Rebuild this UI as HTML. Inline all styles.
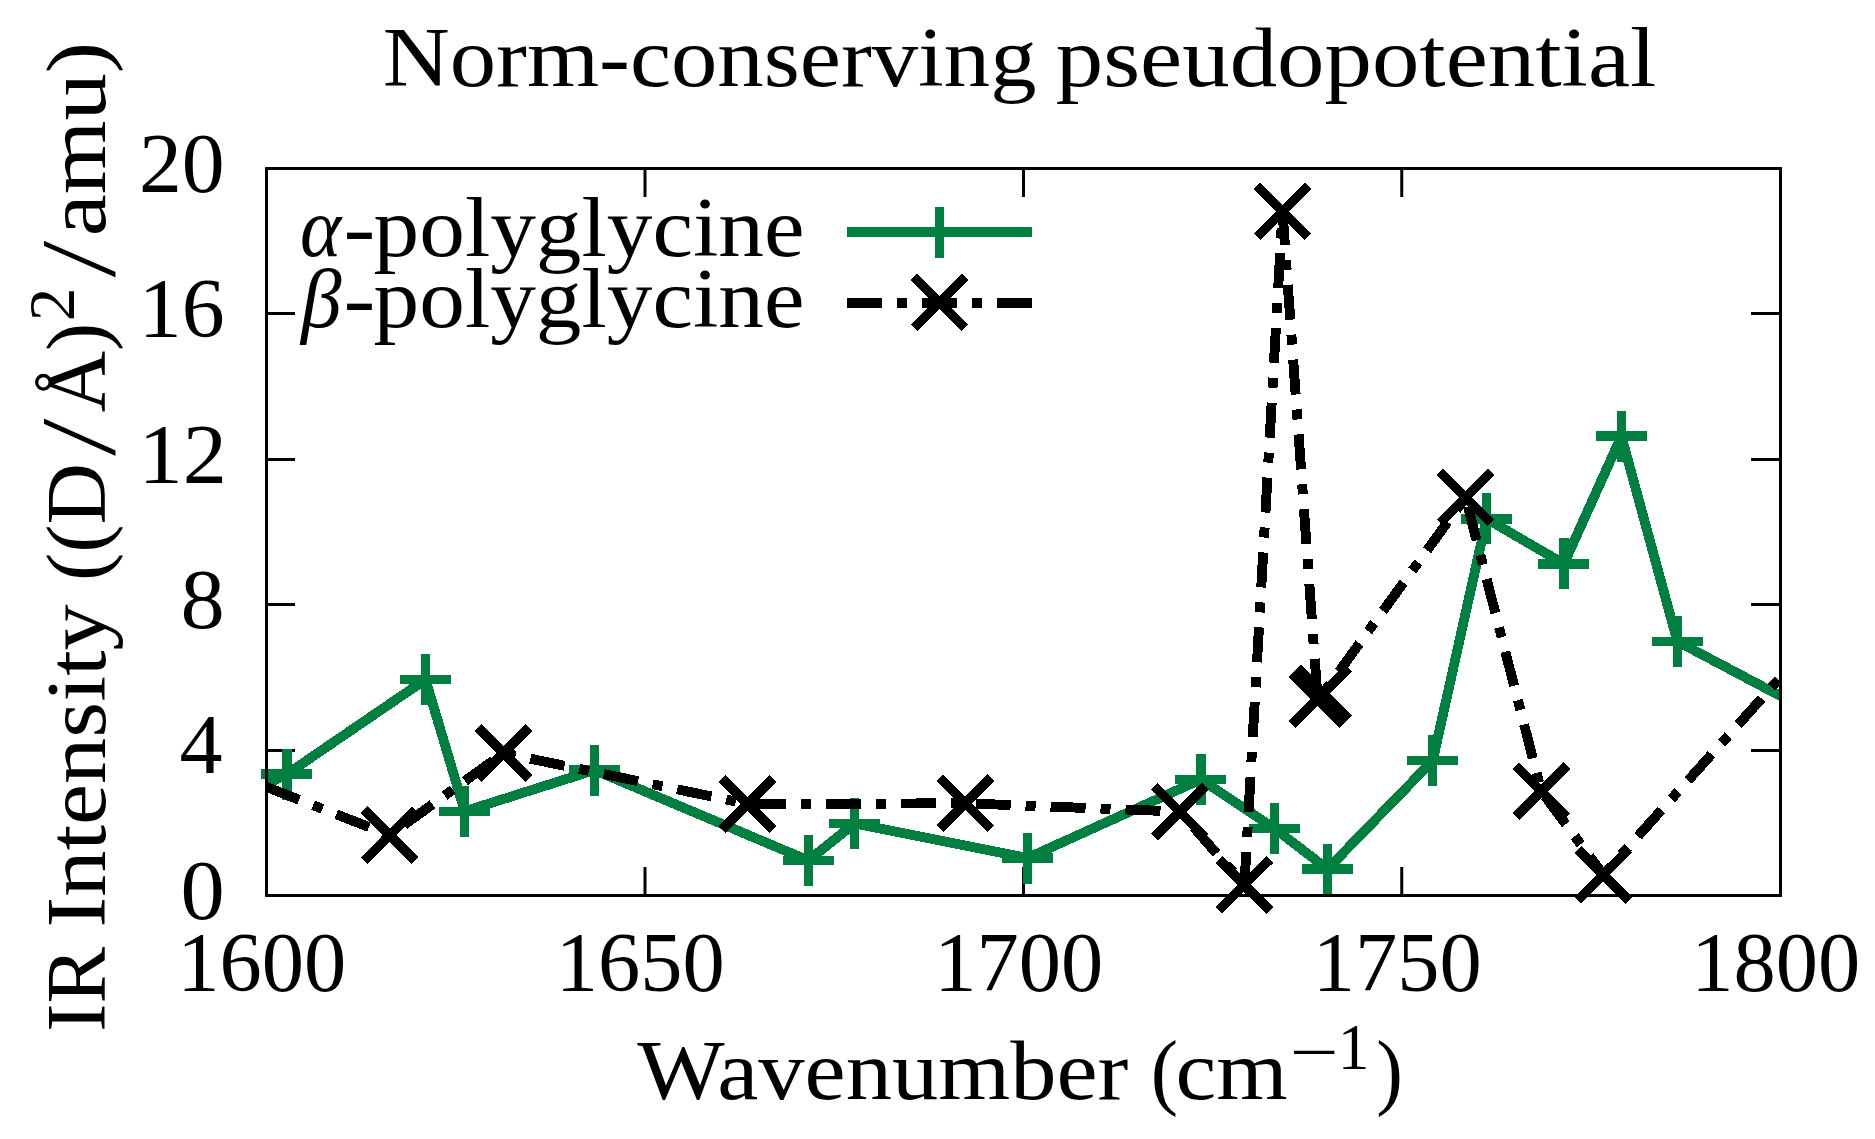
<!DOCTYPE html>
<html lang="en"><head><meta charset="utf-8"><title>Norm-conserving pseudopotential</title>
<style>html,body{margin:0;padding:0;background:#fff;}body{width:1875px;height:1139px;overflow:hidden;}svg{display:block;}text{font-family:"Liberation Serif", "DejaVu Serif", serif;fill:#000;}</style></head><body>
<svg width="1875" height="1139" viewBox="0 0 1875 1139" shape-rendering="crispEdges">
<rect x="0" y="0" width="1875" height="1139" fill="#fff"/>
<g stroke="#000" stroke-width="3" fill="none" stroke-linecap="butt" shape-rendering="auto"><path d="M645.00,895.50 v-28.50 M645.00,168.50 v28.50"/><path d="M1023.50,895.50 v-28.50 M1023.50,168.50 v28.50"/><path d="M1401.75,895.50 v-28.50 M1401.75,168.50 v28.50"/><path d="M266.50,750.50 h28.50 M1780.50,750.50 h-29.50"/><path d="M266.50,604.50 h28.50 M1780.50,604.50 h-29.50"/><path d="M266.50,459.50 h28.50 M1780.50,459.50 h-29.50"/><path d="M266.50,313.50 h28.50 M1780.50,313.50 h-29.50"/></g>
<text font-size="84"><tspan x="299.90" y="255.80" textLength="41.15" lengthAdjust="spacingAndGlyphs" font-style="italic">α</tspan><tspan x="343.49" y="255.80" textLength="31.80" lengthAdjust="spacingAndGlyphs">-</tspan><tspan x="373.61" y="255.80" textLength="430.90" lengthAdjust="spacingAndGlyphs">polyglycine</tspan></text>
<text font-size="84"><tspan x="300.97" y="326.90" textLength="40.48" lengthAdjust="spacingAndGlyphs" font-style="italic">β</tspan><tspan x="343.49" y="326.90" textLength="31.80" lengthAdjust="spacingAndGlyphs">-</tspan><tspan x="373.61" y="326.90" textLength="430.90" lengthAdjust="spacingAndGlyphs">polyglycine</tspan></text>
<path d="M847,232 H1032" stroke="#008040" stroke-width="9.8" fill="none"/>
<path d="M914.00,232.30 h51 M939.50,206.80 v51" stroke="#008040" stroke-width="9.5" fill="none"/>
<path d="M266.50,784.00 L286.90,774.10 L425.50,679.50 L464.70,811.30 L594.50,770.10 L808.40,860.50 L854.60,823.40 L1027.60,858.00 L1200.90,779.40 L1274.50,828.40 L1327.50,869.10 L1432.70,760.60 L1486.60,518.80 L1563.90,563.80 L1621.40,436.20 L1677.40,641.50 L1780.50,696.00" stroke="#008040" stroke-width="9.8" fill="none" stroke-linejoin="miter" stroke-miterlimit="10"/>
<path d="M261.40,774.10 h51 M286.90,748.60 v51 M400.00,679.50 h51 M425.50,654.00 v51 M439.20,811.30 h51 M464.70,785.80 v51 M569.00,770.10 h51 M594.50,744.60 v51 M782.90,860.50 h51 M808.40,835.00 v51 M829.10,823.40 h51 M854.60,797.90 v51 M1002.10,858.00 h51 M1027.60,832.50 v51 M1175.40,779.40 h51 M1200.90,753.90 v51 M1249.00,828.40 h51 M1274.50,802.90 v51 M1302.00,869.10 h51 M1327.50,843.60 v51 M1407.20,760.60 h51 M1432.70,735.10 v51 M1461.10,518.80 h51 M1486.60,493.30 v51 M1538.40,563.80 h51 M1563.90,538.30 v51 M1595.90,436.20 h51 M1621.40,410.70 v51 M1651.90,641.50 h51 M1677.40,616.00 v51" stroke="#008040" stroke-width="9.5" fill="none"/>
<path d="M847,302.9 H1032" stroke="#000" stroke-width="9.9" stroke-dasharray="35 15 10 15" fill="none"/>
<path d="M913.90,276.90 l51,51 M913.90,327.90 l51,-51" stroke="#000" stroke-width="9.5" fill="none"/>
<path d="M266.50,787.00 L389.80,835.20 L503.60,753.10 L747.60,804.00 L965.30,803.30 L1179.80,811.60 L1244.40,884.90 L1282.50,211.50 L1317.60,699.00 L1323.00,693.60 L1465.50,497.30 L1541.30,791.20 L1603.30,874.80 L1780.50,677.50" stroke="#000" stroke-width="9.9" stroke-dasharray="35 15 10 15" fill="none" stroke-linejoin="miter" stroke-miterlimit="10"/>
<path d="M364.30,809.70 l51,51 M364.30,860.70 l51,-51 M478.10,727.60 l51,51 M478.10,778.60 l51,-51 M722.10,778.50 l51,51 M722.10,829.50 l51,-51 M939.80,777.80 l51,51 M939.80,828.80 l51,-51 M1154.30,786.10 l51,51 M1154.30,837.10 l51,-51 M1218.90,859.40 l51,51 M1218.90,910.40 l51,-51 M1257.00,186.00 l51,51 M1257.00,237.00 l51,-51 M1292.10,673.50 l51,51 M1292.10,724.50 l51,-51 M1297.50,668.10 l51,51 M1297.50,719.10 l51,-51 M1440.00,471.80 l51,51 M1440.00,522.80 l51,-51 M1515.80,765.70 l51,51 M1515.80,816.70 l51,-51 M1577.80,849.30 l51,51 M1577.80,900.30 l51,-51" stroke="#000" stroke-width="9.5" fill="none"/>
<rect x="266.50" y="168.50" width="1514.00" height="727.00" fill="none" stroke="#000" stroke-width="3"/>
<text font-size="84"><tspan x="382.79" y="86.00" textLength="653.78" lengthAdjust="spacingAndGlyphs">Norm-conserving</tspan> <tspan x="1055.77" y="86.00" textLength="600.66" lengthAdjust="spacingAndGlyphs">pseudopotential</tspan></text>
<text font-size="84"><tspan x="138.97" y="191.80" textLength="85.69" lengthAdjust="spacingAndGlyphs">20</tspan></text>
<text font-size="84"><tspan x="138.85" y="337.20" textLength="85.81" lengthAdjust="spacingAndGlyphs">16</tspan></text>
<text font-size="84"><tspan x="138.43" y="482.60" textLength="88.44" lengthAdjust="spacingAndGlyphs">12</tspan></text>
<text font-size="84"><tspan x="180.54" y="628.00" textLength="44.22" lengthAdjust="spacingAndGlyphs">8</tspan></text>
<text font-size="84"><tspan x="179.55" y="773.40" textLength="43.08" lengthAdjust="spacingAndGlyphs">4</tspan></text>
<text font-size="84"><tspan x="180.54" y="918.80" textLength="44.22" lengthAdjust="spacingAndGlyphs">0</tspan></text>
<text font-size="84"><tspan x="177.16" y="991.20" textLength="168.96" lengthAdjust="spacingAndGlyphs">1600</tspan></text>
<text font-size="84"><tspan x="555.66" y="991.20" textLength="168.96" lengthAdjust="spacingAndGlyphs">1650</tspan></text>
<text font-size="84"><tspan x="934.16" y="991.20" textLength="168.96" lengthAdjust="spacingAndGlyphs">1700</tspan></text>
<text font-size="84"><tspan x="1312.66" y="991.20" textLength="168.96" lengthAdjust="spacingAndGlyphs">1750</tspan></text>
<text font-size="84"><tspan x="1691.16" y="991.20" textLength="168.96" lengthAdjust="spacingAndGlyphs">1800</tspan></text>
<text font-size="84"><tspan x="637.30" y="1098.80" textLength="491.00" lengthAdjust="spacingAndGlyphs">Wavenumber</tspan> <tspan x="1150.70" y="1098.80" textLength="27.32" lengthAdjust="spacingAndGlyphs">(</tspan><tspan x="1175.62" y="1098.80" textLength="112.16" lengthAdjust="spacingAndGlyphs">cm</tspan><tspan x="1290.01" y="1074.00" textLength="48.77" lengthAdjust="spacingAndGlyphs" font-size="65">−</tspan><tspan x="1337.86" y="1069.00" textLength="31.65" lengthAdjust="spacingAndGlyphs" font-size="65">1</tspan><tspan x="1376.14" y="1098.80" textLength="26.65" lengthAdjust="spacingAndGlyphs">)</tspan></text>
<text font-size="84" transform="translate(105.40,0) rotate(-90)"><tspan x="-1031.83" y="0.00" textLength="84.83" lengthAdjust="spacingAndGlyphs">IR</tspan> <tspan x="-927.60" y="0.00" textLength="323.37" lengthAdjust="spacingAndGlyphs">Intensity</tspan> <tspan x="-581.05" y="0.00" textLength="118.10" lengthAdjust="spacingAndGlyphs">((D</tspan><tspan x="-456.81" y="9.45" textLength="39.16" lengthAdjust="spacingAndGlyphs" font-size="107.5" stroke="#fff" stroke-width="1.0">/</tspan><tspan x="-412.31" y="0.00" textLength="89.70" lengthAdjust="spacingAndGlyphs">Å)</tspan><tspan x="-321.30" y="-31.20" textLength="33.62" lengthAdjust="spacingAndGlyphs" font-size="65">2</tspan> <tspan x="-278.19" y="9.45" textLength="38.41" lengthAdjust="spacingAndGlyphs" font-size="107.5" stroke="#fff" stroke-width="1.0">/</tspan><tspan x="-236.18" y="0.00" textLength="194.43" lengthAdjust="spacingAndGlyphs">amu)</tspan></text>
</svg></body></html>
